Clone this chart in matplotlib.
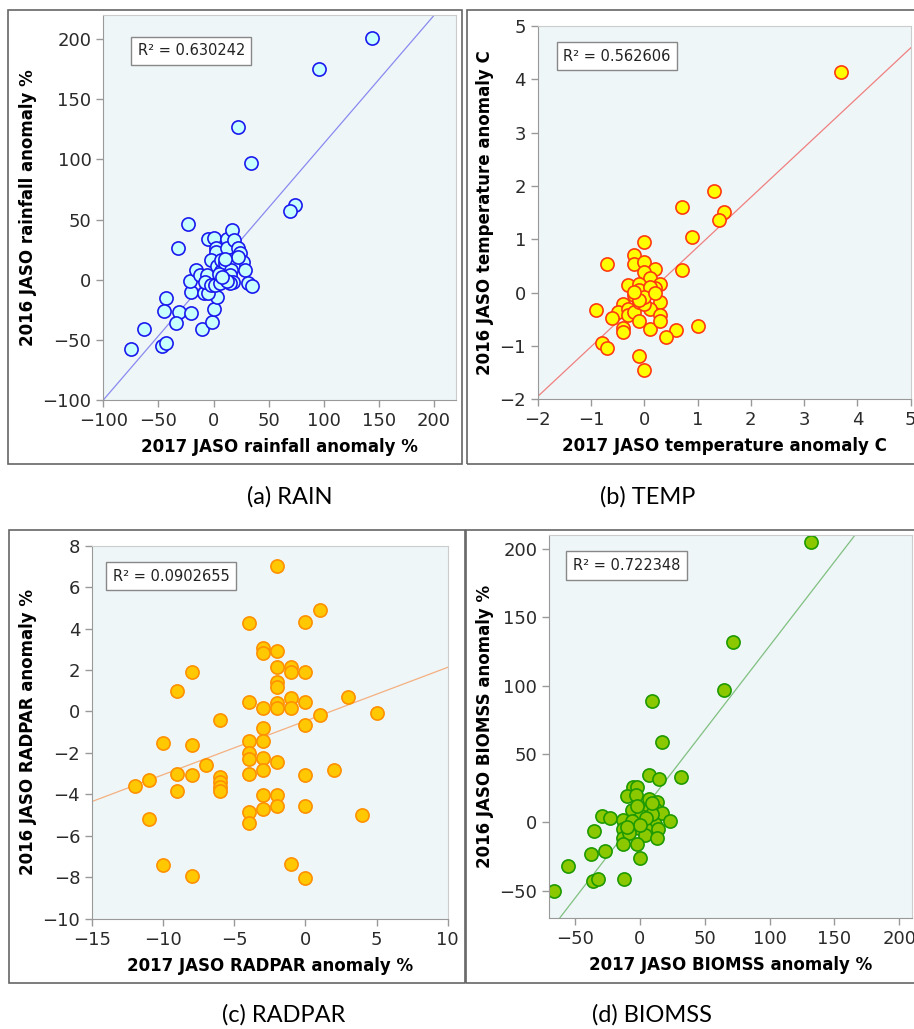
import numpy as np
import matplotlib.pyplot as plt
from matplotlib.patches import Rectangle

W, H = 914, 1029

# (a) rainfall anomaly %
rain_2017 = [144, 96, 22, 34, 74, 69, -23, -32, -75, -63, -47, -43, -43, -45, -31, -34,
             -20, -10, -1, 0, 3, -20, -21, -16, -12, -6, -9, -5, -8, -2, 1, 6,
             -5, 0, 2, 2, -2, 3, 7, 7, 10, 12, 12, 17, 19, 22, 24, 16, 27, 18,
             29, 16, 15, 18, 15, 31, 35, 22, 10, 5, 12, 8]
rain_2016 = [201, 175, 127, 97, 62, 57, 46, 26, -58, -41, -55, -53, -15, -26, -27, -36,
             -28, -41, -35, -24, -14, -10, -1, 8, 4, 4, -11, -11, -2, -4, -4, -3,
             34, 35, 26, 23, 16, 11, 7, 16, 14, 34, 26, 41, 33, 26, 22, 16, 15, 11,
             8, 8, 4, -2, -3, -3, -5, 19, 17, 5, -1, 2]

# (b) temperature anomaly C
temp_2017 = [3.7, 1.3, 0.7, 1.5, 1.4, 0.9, 0.7, 1.0, 0.6, 0.4, 0.1, 0.0, -0.2, -0.2, 0.0,
             -0.7, 0.2, 0.0, 0.1, 0.3, 0.2, -0.3, -0.1, -0.1, 0.1, -0.2, 0.3, -0.9, -0.4,
             -0.5, -0.3, -0.3, -0.2, -0.1, -0.1, 0.1, 0.3, 0.3, -0.6, -0.4, -0.4, -0.8,
             -0.7, -0.1, 0.0, 0.0, 0.0, -0.1, 0.2, -0.2]
temp_2016 = [4.13, 1.91, 1.6, 1.52, 1.37, 1.05, 0.43, -0.62, -0.7, -0.84, -0.69, 0.95, 0.71,
             0.53, 0.58, 0.54, 0.44, 0.39, 0.27, 0.17, 0.08, 0.14, 0.17, 0.05, 0.1, -0.04,
             -0.17, -0.32, -0.21, -0.36, -0.31, -0.42, -0.36, -0.17, -0.53, -0.31, -0.42,
             -0.54, -0.47, -0.67, -0.73, -0.94, -1.03, -1.19, -1.45, -0.21, -0.08, -0.14,
             -0.01, 0.02]

# (c) RADPAR anomaly %
radpar_2017 = [-2, 1, 0, -4, -3, -3, -2, -8, -2, -1, -1, 0, -2, -2, -9, -4, -3, -2, -2, -1,
               -1, 0, 3, 5, 1, 0, -6, -3, -4, -3, -10, -8, -4, -4, -3, -2, -7, -3, 2, -9,
               -8, -4, 0, -6, -6, -6, -6, -12, -11, -9, -3, -2, -2, 0, -3, -4, -4, -11,
               4, -10, -1, -8, 0]
radpar_2016 = [7.0, 4.88, 4.33, 4.28, 3.08, 2.84, 2.93, 1.9, 2.13, 2.13, 1.92, 1.92, 1.44,
               1.2, 1.0, 0.46, 0.17, 0.39, 0.17, 0.67, 0.17, 0.47, 0.68, -0.07, -0.19,
               -0.67, -0.41, -0.81, -1.43, -1.43, -1.51, -1.6, -2.02, -2.31, -2.26, -2.42,
               -2.6, -2.83, -2.83, -3.0, -3.05, -3.03, -3.07, -3.18, -3.42, -3.63, -3.84,
               -3.61, -3.29, -3.84, -4.03, -4.03, -4.55, -4.56, -4.71, -4.85, -5.4, -5.17,
               -5.01, -7.43, -7.38, -7.93, -8.05]

# (d) BIOMSS anomaly %
biom_2017 = [132, 72, 65, 9, 17, 7, 15, 32, -5, -2, -10, -3, 7, 13, -6, 3, 7, 12, 17, -29,
             -23, -13, -4, 3, 12, 23, -35, -13, -8, -1, 5, 14, -13, -8, 4, 13, -13, -2,
             -27, -38, 0, -55, -66, -36, -32, -12, 1, 9, -6, 5, -2, 9, 0, -10]
biom_2016 = [205, 132, 97, 89, 59, 35, 32, 33, 26, 26, 19, 20, 17, 15, 9, 8, 9, 10, 7, 5,
             3, 2, 1, 2, -1, 1, -6, -5, -7, -4, -5, -5, -11, -8, -9, -11, -16, -16, -21,
             -23, -26, -32, -50, -43, -41, -41, 5, 6, 1, 3, 12, 14, -2, -3]

# regression lines (slope, intercept) and R^2
fits = [(1.0655, 6.55), (0.934, -0.08), (0.259, -0.46), (1.229, 6.1)]
r2_labels = ["R² = 0.630242", "R² = 0.562606", "R² = 0.0902655", "R² = 0.722348"]

panels = [
    dict(x=rain_2017, y=rain_2016, xlim=(-100, 220), ylim=(-100, 220),
         xt=[-100, -50, 0, 50, 100, 150, 200], yt=[-100, -50, 0, 50, 100, 150, 200],
         xl="2017 JASO rainfall anomaly %", yl="2016 JASO rainfall anomaly %",
         face="#c8ffff", edge="#1a1aee", line="#8a8af0",
         box=(103.3, 456, 15, 400), txt=(0.097, 0.931)),
    dict(x=temp_2017, y=temp_2016, xlim=(-2, 5), ylim=(-2, 5),
         xt=range(-2, 6), yt=range(-2, 6),
         xl="2017 JASO temperature anomaly C", yl="2016 JASO temperature anomaly C",
         face="#ffff00", edge="#ff3a10", line="#f08080",
         box=(537.7, 910.7, 26, 399.3), txt=(0.068, 0.943)),
    dict(x=radpar_2017, y=radpar_2016, xlim=(-15, 10), ylim=(-10, 8),
         xt=[-15, -10, -5, 0, 5, 10], yt=range(-10, 9, 2),
         xl="2017 JASO RADPAR anomaly %", yl="2016 JASO RADPAR anomaly %",
         face="#ffc800", edge="#ff9000", line="#f5b080",
         box=(92, 447.7, 545.7, 918.7), txt=(0.059, 0.942)),
    dict(x=biom_2017, y=biom_2016, xlim=(-70, 210), ylim=(-70, 210),
         xt=[-50, 0, 50, 100, 150, 200], yt=[-50, 0, 50, 100, 150, 200],
         xl="2017 JASO BIOMSS anomaly %", yl="2016 JASO BIOMSS anomaly %",
         face="#8cc800", edge="#1e9a00", line="#80c080",
         box=(549, 912.3, 535, 918.3), txt=(0.066, 0.944)),
]

fig = plt.figure(figsize=(W / 100, H / 100), dpi=100)

for p, (m, b), r2 in zip(panels, fits, r2_labels):
    l, r, t, bt = p["box"]
    ax = fig.add_axes([l / W, 1 - bt / H, (r - l) / W, (bt - t) / H])
    ax.set_facecolor("#eef6f8")
    xx = np.array(p["xlim"], dtype=float)
    ax.plot(xx, m * xx + b, color=p["line"], lw=0.9, zorder=1)
    ax.scatter(p["x"], p["y"], s=90, c=p["face"], edgecolors=p["edge"],
               linewidths=1.2, zorder=2)
    ax.set_xlim(p["xlim"])
    ax.set_ylim(p["ylim"])
    ax.set_xticks(list(p["xt"]))
    ax.set_yticks(list(p["yt"]))
    ax.tick_params(labelsize=13, colors="#2a2a2a", length=5, width=1, color="#999999")
    for s in ("left", "bottom"):
        ax.spines[s].set_color("#999999")
    for s in ("top", "right"):
        ax.spines[s].set_color("#cccccc")
    ax.set_xlabel(p["xl"], fontsize=12, fontweight="bold", labelpad=6)
    ax.set_ylabel(p["yl"], fontsize=12, fontweight="bold", labelpad=4)
    ax.text(p["txt"][0], p["txt"][1] - 0.004, r2, transform=ax.transAxes, fontsize=10.5,
            ha="left", va="top", color="#222222",
            bbox=dict(boxstyle="square,pad=0.45", fc="white", ec="#888888", lw=1))

# panel frames
for x0, y0, x1, y1 in [(8, 10, 462, 464), (467, 10, 920, 464),
                       (9, 530, 465, 983), (466, 530, 920, 983)]:
    fig.patches.append(Rectangle((x0 / W, 1 - y1 / H), (x1 - x0) / W, (y1 - y0) / H,
                                 transform=fig.transFigure, fill=False,
                                 ec="#666666", lw=1.2))

captions = [("(a) RAIN", 290, 497), ("(b) TEMP", 648, 497),
            ("(c) RADPAR", 284, 1015), ("(d) BIOMSS", 652, 1015)]
for s, cx, cy in captions:
    fig.text(cx / W, 1 - cy / H, s, ha="center", va="center", fontsize=17,
             family=["Lato", "DejaVu Sans"])

fig.savefig("out.png", dpi=100)
